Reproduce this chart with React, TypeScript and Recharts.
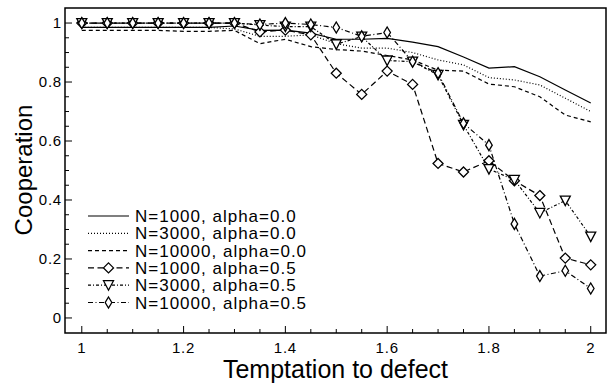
import { LineChart, Line, XAxis, YAxis, ReferenceArea, Legend } from 'recharts'

const temptation = [1, 1.05, 1.1, 1.15, 1.2, 1.25, 1.3, 1.35, 1.4, 1.45, 1.5, 1.55, 1.6, 1.65, 1.7, 1.75, 1.8, 1.85, 1.9, 1.95, 2]

const coopN1000a0 = [0.985, 0.985, 0.985, 0.985, 0.985, 0.985, 0.99, 0.975, 0.976, 0.966, 0.945, 0.945, 0.948, 0.935, 0.92, 0.885, 0.847, 0.852, 0.818, 0.773, 0.729]
const coopN3000a0 = [0.985, 0.985, 0.985, 0.985, 0.985, 0.985, 0.98, 0.955, 0.955, 0.96, 0.93, 0.915, 0.915, 0.9, 0.875, 0.858, 0.815, 0.807, 0.79, 0.745, 0.7]
const coopN10000a0 = [0.975, 0.975, 0.975, 0.975, 0.972, 0.972, 0.975, 0.93, 0.945, 0.92, 0.91, 0.905, 0.89, 0.875, 0.84, 0.837, 0.793, 0.784, 0.75, 0.688, 0.665]
const coopN1000a05 = [1, 1, 1, 1, 1, 1, 1, 0.97, 0.976, 0.96, 0.83, 0.758, 0.837, 0.792, 0.524, 0.495, 0.533, 0.465, 0.415, 0.203, 0.18]
const coopN3000a05 = [1, 1, 1, 1, 1, 1, 1, 0.993, 0.988, 0.988, 0.928, 0.954, 0.873, 0.869, 0.824, 0.655, 0.505, 0.468, 0.356, 0.398, 0.276]
const coopN10000a05 = [1, 1, 1, 1, 1, 1, 1, 0.995, 1, 0.995, 0.985, 0.955, 0.968, 0.869, 0.83, 0.66, 0.586, 0.319, 0.142, 0.16, 0.1]

const xTicks = [1, 1.05, 1.1, 1.15, 1.2, 1.25, 1.3, 1.35, 1.4, 1.45, 1.5, 1.55, 1.6, 1.65, 1.7, 1.75, 1.8, 1.85, 1.9, 1.95, 2]
const xTickLabels = ['1', '1.2', '1.4', '1.6', '1.8', '2']
const yTicks = [0, 0.05, 0.1, 0.15, 0.2, 0.25, 0.3, 0.35, 0.4, 0.45, 0.5, 0.55, 0.6, 0.65, 0.7, 0.75, 0.8, 0.85, 0.9, 0.95, 1]
const yTickLabels = ['0', '0.2', '0.4', '0.6', '0.8', '1']

const FONT = '"Liberation Sans", Arial, Helvetica, sans-serif'

type MarkerKind = 'none' | 'diamond' | 'thinDiamond' | 'triangle'

const series: { key: string; name: string; values: number[]; dash?: string; marker: MarkerKind }[] = [
  { key: 'a', name: 'N=1000, alpha=0.0', values: coopN1000a0, marker: 'none' },
  { key: 'b', name: 'N=3000, alpha=0.0', values: coopN3000a0, dash: '1 2', marker: 'none' },
  { key: 'c', name: 'N=10000, alpha=0.0', values: coopN10000a0, dash: '4 3', marker: 'none' },
  { key: 'd', name: 'N=1000, alpha=0.5', values: coopN1000a05, dash: '6 3.5', marker: 'diamond' },
  { key: 'e', name: 'N=3000, alpha=0.5', values: coopN3000a05, dash: '3 2 1 2', marker: 'triangle' },
  { key: 'f', name: 'N=10000, alpha=0.5', values: coopN10000a05, dash: '5 2.5 1 2.5', marker: 'thinDiamond' },
]

const data = temptation.map((t, i) => {
  const row: Record<string, number> = { t }
  series.forEach((s) => { row[s.key] = s.values[i] })
  return row
})

function markerPath(kind: MarkerKind, cx: number, cy: number) {
  if (kind === 'diamond') return `M${cx},${cy - 5}L${cx + 5},${cy}L${cx},${cy + 5}L${cx - 5},${cy}Z`
  if (kind === 'thinDiamond') return `M${cx},${cy - 5.5}L${cx + 3.3},${cy}L${cx},${cy + 5.5}L${cx - 3.3},${cy}Z`
  return `M${cx - 5},${cy - 4.5}L${cx + 5},${cy - 4.5}L${cx},${cy + 5}Z`
}

function Marker({ kind, cx, cy }: { kind: MarkerKind; cx: number; cy: number }) {
  if (kind === 'none' || cx == null || cy == null) return null
  return <path d={markerPath(kind, cx, cy)} fill="#fff" stroke="#000" strokeWidth={1.3} />
}

const isMajor = (v: number, step: number) => Math.abs(v / step - Math.round(v / step)) < 1e-6

function XTick({ x, y, payload }: any) {
  const v = payload.value
  const major = isMajor(v, 0.2)
  const label = major ? xTickLabels[Math.round((v - 1) / 0.2)] : null
  return (
    <g>
      <line x1={x} x2={x} y1={y} y2={y - (major ? 7 : 4)} stroke="#000" strokeWidth={1} />
      {label && (
        <text x={x} y={y + 20} textAnchor="middle" fontSize={15} letterSpacing={0.8} fontFamily={FONT} fill="#000">{label}</text>
      )}
    </g>
  )
}

function YTick({ x, y, payload }: any) {
  const v = payload.value
  const major = isMajor(v, 0.2)
  const label = major ? yTickLabels[Math.round(v / 0.2)] : null
  return (
    <g>
      <line x1={x} x2={x + (major ? 7 : 4)} y1={y} y2={y} stroke="#000" strokeWidth={1} />
      {label && (
        <text x={x - 3} y={y + 5} textAnchor="end" fontSize={15} letterSpacing={0.8} fontFamily={FONT} fill="#000">{label}</text>
      )}
    </g>
  )
}

function LegendBox() {
  return (
    <svg width={260} height={110}>
      {series.map((s, i) => {
        const cy = 9 + i * 17.3
        return (
          <g key={s.key}>
            <line x1={8} x2={49} y1={cy} y2={cy} stroke="#000" strokeWidth={1.2} strokeDasharray={s.dash} />
            <Marker kind={s.marker} cx={28.5} cy={cy} />
            <text x={55} y={cy + 6} fontSize={17} letterSpacing={1} fontFamily={FONT} fill="#000">{s.name}</text>
          </g>
        )
      })}
    </svg>
  )
}

export default function App() {
  return (
    <div style={{ position: 'absolute', left: 0, top: 0, width: 608, height: 384, background: '#fff', fontFamily: FONT }}>
      <LineChart width={608} height={384} data={data} margin={{ top: 8, right: 2, bottom: 0, left: 0 }}>
        <XAxis
          dataKey="t"
          type="number"
          domain={[0.967, 2.03]}
          ticks={xTicks}
          interval={0}
          height={51}
          tickSize={0}
          tickMargin={0}
          axisLine={false}
          tickLine={false}
          tick={<XTick />}
          allowDataOverflow
        />
        <YAxis
          type="number"
          domain={[-0.051, 1.051]}
          ticks={yTicks}
          interval={0}
          width={65}
          tickSize={0}
          tickMargin={0}
          axisLine={false}
          tickLine={false}
          tick={<YTick />}
          allowDataOverflow
        />
        <ReferenceArea x1={0.967} x2={2.03} y1={-0.051} y2={1.051} fill="none" stroke="#000" strokeWidth={1.5} />
        {series.map((s) => (
          <Line
            key={s.key}
            dataKey={s.key}
            name={s.name}
            stroke="#000"
            strokeWidth={1.2}
            strokeDasharray={s.dash}
            dot={(p: any) => <Marker key={p.index} kind={s.marker} cx={p.cx} cy={p.cy} />}
            activeDot={false}
            isAnimationActive={false}
          />
        ))}
        <Legend
          layout="vertical"
          align="center"
          verticalAlign="middle"
          content={() => <LegendBox />}
          wrapperStyle={{ left: 80, top: 207, width: 260, height: 110 }}
        />
      </LineChart>
      <div style={{ position: 'absolute', left: 65, width: 541, top: 357, textAlign: 'center', fontSize: 25, lineHeight: '24px', color: '#000' }}>
        Temptation to defect
      </div>
      <div
        style={{
          position: 'absolute',
          left: 24,
          top: 170,
          transform: 'translate(-50%, -50%) rotate(-90deg)',
          whiteSpace: 'nowrap',
          fontSize: 24,
          lineHeight: 1,
          color: '#000',
        }}
      >
        Cooperation
      </div>
    </div>
  )
}
